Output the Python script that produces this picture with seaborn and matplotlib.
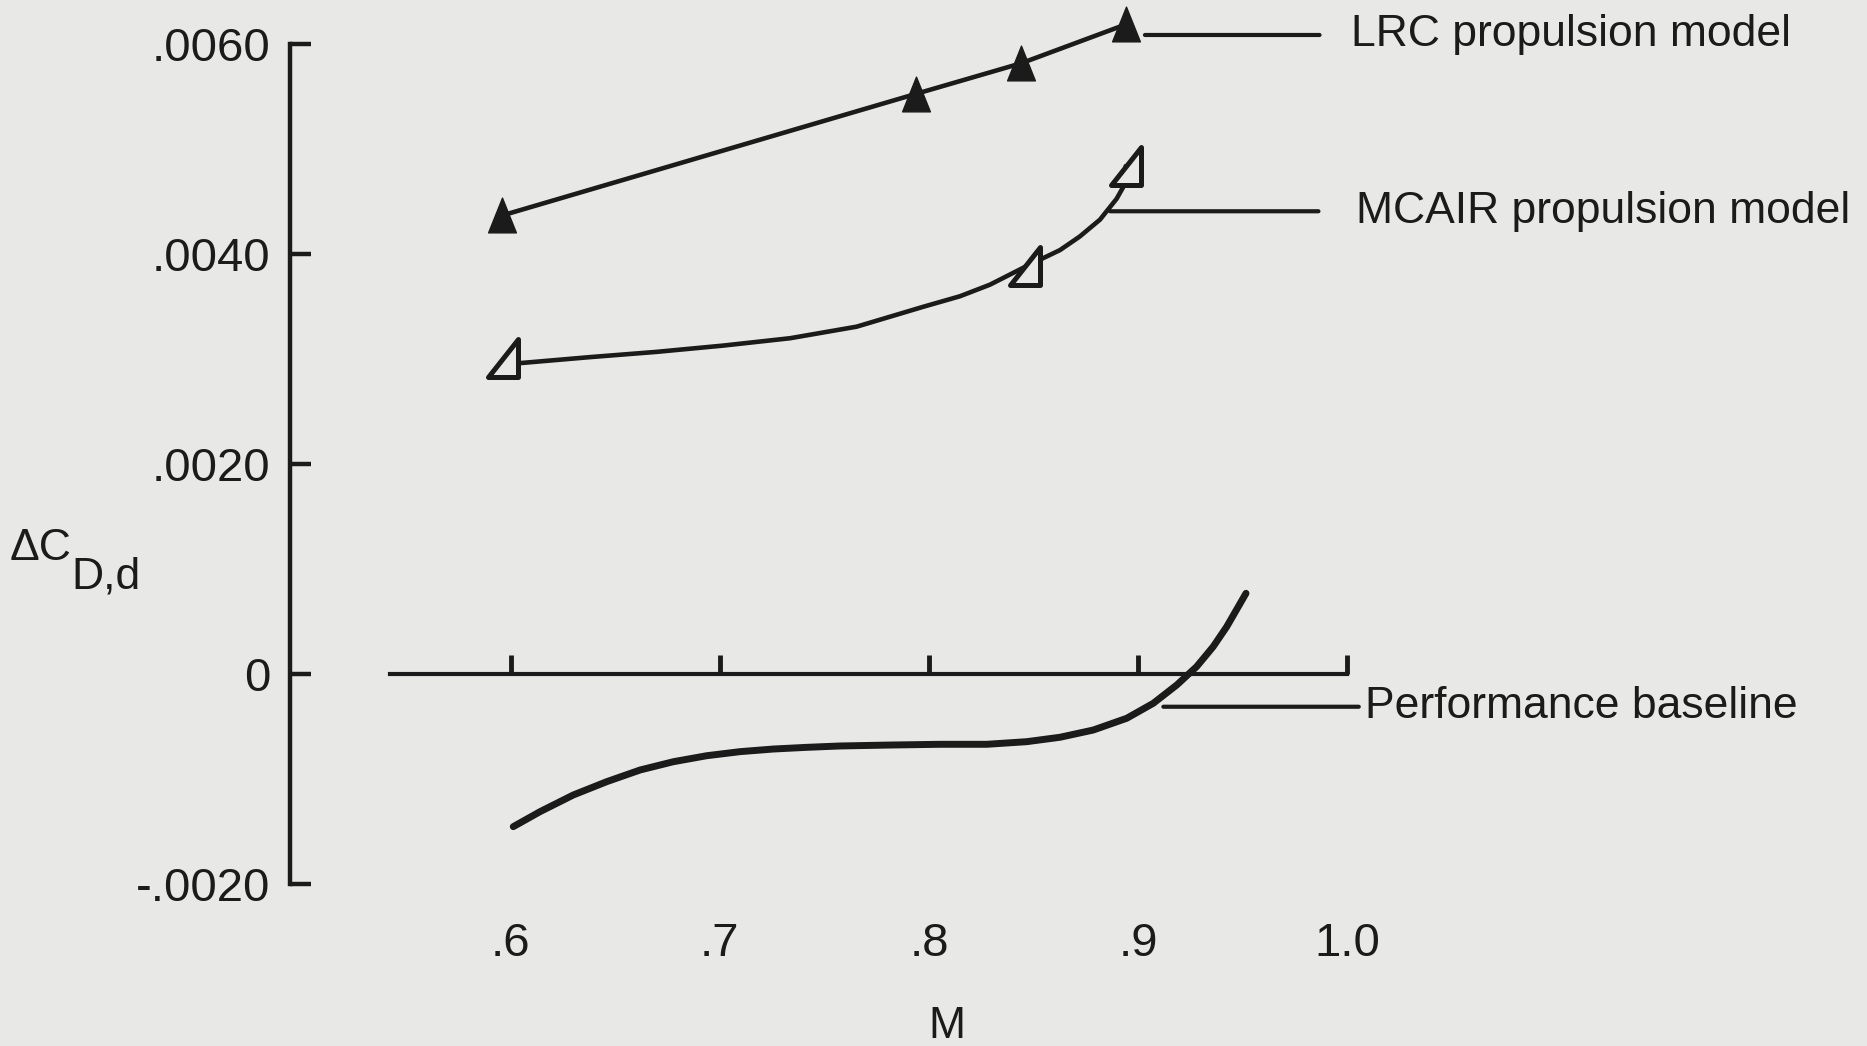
import matplotlib
matplotlib.use("Agg")
import matplotlib.pyplot as plt
from matplotlib.path import Path
import seaborn as sns

# LRC propulsion model (filled triangles)
lrc_mach = [0.596, 0.794, 0.844, 0.894]
lrc_dcd = [0.00437, 0.00553, 0.00582, 0.00619]

# MCAIR propulsion model (open triangles) and its faired curve
mcair_mach = [0.5965, 0.8459, 0.8940]
mcair_dcd = [0.00301, 0.00389, 0.00484]
mcair_fair_mach = [0.5965, 0.6029, 0.6380, 0.6698, 0.7017, 0.7336, 0.7654, 0.7973, 0.8148,
                   0.8291, 0.8459, 0.8626, 0.8721, 0.8817, 0.8897, 0.8928, 0.8940]
mcair_fair_dcd = [0.00297, 0.00296, 0.00302, 0.00307, 0.00313, 0.00320, 0.00331, 0.00350,
                  0.00360, 0.00371, 0.00388, 0.00404, 0.00417, 0.00433, 0.00453, 0.00464,
                  0.00484]

# Performance baseline curve
base_mach = [0.6013, 0.6141, 0.6300, 0.6460, 0.6619, 0.6778, 0.6937, 0.7097, 0.7256, 0.7415,
             0.7574, 0.7813, 0.8052, 0.8276, 0.8467, 0.8626, 0.8785, 0.8945, 0.9072, 0.9184,
             0.9279, 0.9358, 0.9423, 0.9478, 0.9515]
base_dcd = [-0.001455, -0.001312, -0.001153, -0.001026, -0.000915, -0.000836, -0.000779,
            -0.000740, -0.000715, -0.000699, -0.000686, -0.000677, -0.000670, -0.000670,
            -0.000645, -0.000603, -0.000534, -0.000422, -0.000279, -0.000105, 0.000070,
            0.000260, 0.000451, 0.000641, 0.000769]

mach_ticks = [0.6, 0.7, 0.8, 0.9, 1.0]
mach_labels = [".6", ".7", ".8", ".9", "1.0"]
dcd_ticks = [-0.002, 0.0, 0.002, 0.004, 0.006]
dcd_labels = ["-.0020", "0", ".0020", ".0040", ".0060"]

bg = "#e8e8e6"
ink = "#1b1b1b"

# triangle shapes used on the original sheet (closed outlines)
solid_tri = Path([(-0.8, -1), (0.8, -1), (0, 1), (-0.8, -1)], closed=True)
open_tri = Path([(-0.8, -1), (0.8, -1), (0.8, 1), (-0.8, -1)], closed=True)

sns.set_theme(style="white", rc={"axes.facecolor": bg, "figure.facecolor": bg})
plt.rcParams["font.family"] = ["Liberation Sans", "DejaVu Sans"]

fig = plt.figure(figsize=(18.67, 10.46), dpi=100)
ax = fig.add_axes([290 / 1867, 141 / 1046, 1577 / 1867, 905 / 1046])

# curves
sns.lineplot(x=lrc_mach, y=lrc_dcd, ax=ax, color=ink, lw=3.3, sort=False, estimator=None,
             marker=solid_tri, markersize=25, markeredgecolor=ink, markeredgewidth=1,
             zorder=4)
sns.lineplot(x=mcair_fair_mach, y=mcair_fair_dcd, ax=ax, color=ink, lw=3.3, sort=False,
             estimator=None, zorder=3)
sns.lineplot(x=mcair_mach, y=mcair_dcd, ax=ax, color=ink, linestyle="none", marker=open_tri,
             markersize=27, markerfacecolor=bg, markeredgecolor=ink, markeredgewidth=3.6,
             estimator=None, zorder=4)
sns.lineplot(x=base_mach, y=base_dcd, ax=ax, color=ink, lw=5, sort=False, estimator=None,
             zorder=3)

ax.set_xlim(0.4946, 1.2483)
ax.set_ylim(-0.0022015, 0.0064234)

# axes: vertical scale on the left, Mach line drawn at zero
sns.despine(ax=ax)
ax.spines["left"].set_bounds(-0.002, 0.006)
ax.spines["left"].set_linewidth(3.2)
ax.spines["left"].set_color(ink)
ax.spines["bottom"].set_position(("data", 0))
ax.spines["bottom"].set_bounds(0.5424, 1.0)
ax.spines["bottom"].set_linewidth(3)
ax.spines["bottom"].set_color(ink)

ax.set_yticks(dcd_ticks, labels=dcd_labels)
ax.tick_params(axis="y", left=True, direction="in", length=15, width=3.2, color=ink, pad=14,
               labelsize=34, labelcolor=ink)
ax.set_xticks(mach_ticks)
ax.tick_params(axis="x", bottom=True, direction="in", length=14, width=3.5, color=ink,
               labelbottom=False)

# Mach labels at the foot of the chart
secax = ax.secondary_xaxis("bottom")
secax.set_xticks(mach_ticks, labels=mach_labels)
secax.spines["bottom"].set_visible(False)
secax.tick_params(axis="x", bottom=False, length=0, pad=12, labelsize=34, labelcolor=ink)
secax.set_xlabel("M", fontsize=32, color=ink, labelpad=29, x=0.4166)

ax.text(-0.1582, 0.3939, "ΔC", transform=ax.transAxes, fontsize=32, color=ink,
        ha="center", va="center")
ax.text(-0.1164, 0.3624, "D,d", transform=ax.transAxes, fontsize=32, color=ink,
        ha="center", va="center")

# labels with leader lines
leader = dict(arrowstyle="-", color=ink, lw=3, shrinkB=0)
ax.annotate("LRC propulsion model", xy=(0.9032, 0.00609), xytext=(1.0015, 0.00609),
            ha="left", va="center", fontsize=32, color=ink,
            arrowprops=dict(leader, shrinkA=20))
ax.annotate("MCAIR propulsion model", xy=(0.8865, 0.00441), xytext=(1.0043, 0.00441),
            ha="left", va="center", fontsize=32, color=ink,
            arrowprops=dict(leader, shrinkA=25))
ax.annotate("Performance baseline", xy=(0.9120, -0.000312), xytext=(1.0083, -0.000312),
            ha="left", va="center", fontsize=32, color=ink,
            arrowprops=dict(leader, shrinkA=2))

fig.savefig("out.png", dpi=100, facecolor=bg)
